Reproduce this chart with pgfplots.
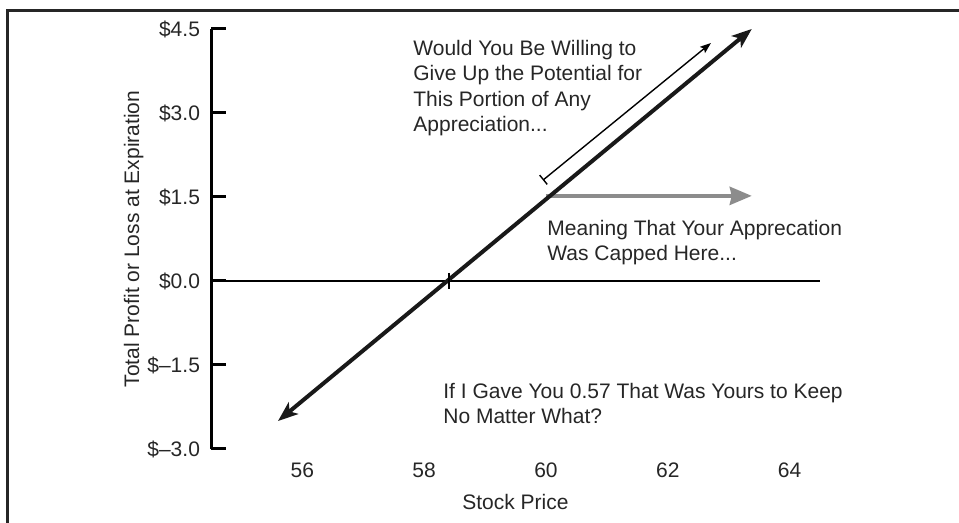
\documentclass[border=0pt]{standalone}
\usepackage{fontspec}
\setmainfont{Liberation Sans}
\usepackage{pgfplots}
\pgfplotsset{compat=1.18}
\usetikzlibrary{arrows.meta}
\begin{document}
\begin{tikzpicture}[x=0.5pt,y=0.5pt,font=\fontsize{10.5}{12.75}\selectfont]
\useasboundingbox (0,0) rectangle (959,523);
\draw[line width=1.5pt, color=black!85] (7.5,-10) -- (7.5,512.5) -- (975,512.5);
\begin{axis}[
  at={(105.5pt,37pt)}, anchor=south west,
  scale only axis, width=304.5pt, height=210pt,
  xmin=54.5, xmax=64.5, ymin=-3, ymax=4.5,
  clip=false,
  axis lines*=left,
  x axis line style={draw=none},
  y axis line style={line width=1.5pt},
  xtick={56,58,60,62,64},
  ytick={-3,-1.5,0,1.5,3,4.5},
  yticklabels={\$–3.0,\$–1.5,\$0.0,\$1.5,\$3.0,\$4.5},
  xtick style={draw=none},
  ytick style={line width=1.5pt, black},
  tick align=inside, major tick length=7.5pt,
  /pgf/number format/assume math mode=true,
  tick label style={font=\fontsize{10.5}{12}\selectfont, text=black!85},
  yticklabel style={anchor=east, xshift=-2pt},
  xticklabel style={anchor=north, yshift=-3.3pt},
  xlabel={Stock Price},
  ylabel={Total Profit or Loss at Expiration},
  label style={font=\fontsize{10.5}{12}\selectfont, text=black!85},
  xlabel style={at={(axis description cs:0.5,-0.126)}, anchor=center},
  ylabel style={at={(axis description cs:-0.127,0.5)}, anchor=center},
]
\addplot[no markers, line width=0.9pt, black] coordinates {(54.5,0) (64.5,0)};
\addplot[no markers, line width=2pt, black!45, -{Stealth[length=11pt,width=9pt,inset=1pt]}] coordinates {(60.0,1.52) (63.38,1.52)};
\addplot[no markers, line width=0.7pt, black, {Bar[width=6pt]}-{Stealth[length=5.5pt,width=4pt,inset=1pt]}] coordinates {(59.95,1.80) (62.71,4.25)};
\addplot[no markers, line width=2pt, black!90, {Stealth[length=10pt,width=7.5pt,inset=2.5pt]}-{Stealth[length=10pt,width=7.5pt,inset=2.5pt]}] coordinates {(55.6,-2.5) (63.38,4.5)};
\addplot[only marks, mark=|, mark size=4pt, mark options={line width=1pt, black}] coordinates {(58.4,0)};
\end{axis}
\node[anchor=north west, inner sep=0, align=left, text=black!85] at (413,483.5) {Would You Be Willing to\\Give Up the Potential for\\This Portion of Any\\Appreciation...};
\node[anchor=north west, inner sep=0, align=left, text=black!85] at (547,303.5) {Meaning That Your Apprecation\\Was Capped Here...};
\node[anchor=north west, inner sep=0, align=left, text=black!85] at (443,140.5) {If I Gave You 0.57 That Was Yours to Keep\\No Matter What?};
\end{tikzpicture}
\end{document}
